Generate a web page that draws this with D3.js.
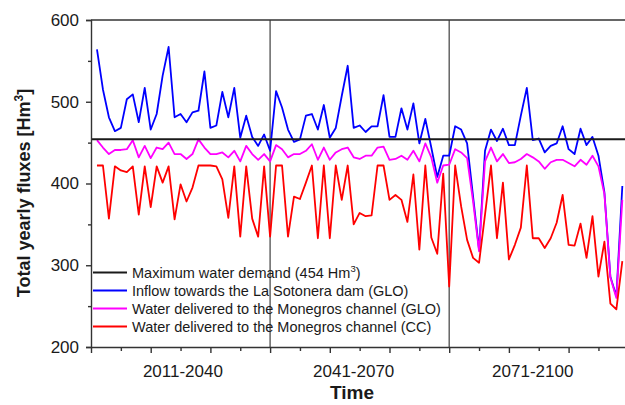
<!DOCTYPE html>
<html>
<head>
<meta charset="utf-8">
<script src="https://cdn.jsdelivr.net/npm/d3@7"></script>
<style>
  body { margin: 0; background: #fff; }
  svg { display: block; }
  text { font-family: "Liberation Sans", Arial, Helvetica, sans-serif; fill: #1a1a1a; }
</style>
</head>
<body>
<svg id="chart" width="625" height="405"></svg>
<script>
// Yearly series, one value per year starting in 2011 (Hm3)
const firstYear = 2011;
const inflowGLO = [
  564, 515, 481, 464, 468, 503, 509, 475, 517, 466,
  485, 532, 567, 481, 485, 475, 487, 489, 537, 468,
  471, 512, 481, 517, 456, 483, 457, 446, 460, 440,
  513, 493, 466, 451, 454, 483, 485, 466, 496, 456,
  468, 507, 544, 468, 471, 463, 470, 470, 508, 457,
  457, 492, 466, 498, 449, 479, 444, 408, 434, 434,
  470, 466, 449, 384, 319, 440, 466, 452, 467, 447,
  447, 483, 517, 453, 455, 438, 446, 449, 470, 442,
  436, 467, 447, 457, 434, 389, 286, 262, 397
];
const deliveredGLO = [
  453, 444, 436, 441, 441, 442, 453, 432, 446, 431,
  444, 442, 450, 436, 436, 430, 436, 454, 444, 436,
  436, 438, 432, 440, 427, 446, 436, 429, 436, 427,
  447, 442, 432, 436, 436, 440, 448, 429, 444, 429,
  438, 442, 444, 432, 430, 434, 434, 444, 445, 429,
  430, 434, 429, 440, 427, 449, 432, 401, 422, 423,
  442, 438, 431, 378, 317, 427, 444, 427, 436, 425,
  426, 430, 436, 432, 427, 418, 426, 429, 429, 425,
  421, 429, 423, 434, 421, 387, 285, 260, 380
];
const deliveredCC = [
  422, 422, 357, 421, 416, 414, 421, 362, 421, 371,
  421, 401, 421, 356, 399, 378, 395, 422, 422, 422,
  421, 405, 358, 421, 335, 421, 357, 335, 421, 335,
  422, 422, 335, 384, 381, 401, 422, 333, 422, 333,
  422, 380, 422, 350, 364, 360, 361, 422, 422, 380,
  386, 380, 353, 411, 319, 422, 334, 314, 412, 274,
  422, 372, 331, 309, 303, 362, 422, 333, 401, 307,
  325, 346, 422, 333, 333, 321, 333, 352, 386, 325,
  324, 351, 309, 360, 286, 329, 253, 246, 305
];
const maxDemand = 454;

const yMajorTicks = [200, 300, 400, 500, 600];
const yMinorTicks = [250, 350, 450, 550];
const xMajorTicks = [2010, 2020, 2030, 2040, 2050, 2060, 2070, 2080, 2090, 2100];
const xMinorTicks = [2015, 2025, 2035, 2045, 2055, 2065, 2075, 2085, 2095];
const periodBreaks = [2040, 2070];
const periodLabels = ["2011-2040", "2041-2070", "2071-2100"];
const periodLabelYears = [2025.4, 2054, 2084];

const seriesNames = [
  "Inflow towards the La Sotonera dam (GLO)",
  "Water delivered to the Monegros channel (GLO)",
  "Water delivered to the Monegros channel (CC)"
];
const seriesColors = ["#0000ff", "#ff00ff", "#ff0000"];
const demandColor = "#1a1a1a";

const svg = d3.select("#chart");

const plotLeft = 91, plotTop = 20, plotBottom = 347;
const x = d3.scaleLinear().domain([2010, 2100]).range([plotLeft, plotLeft + 90 * 5.97]);
const y = d3.scaleLinear().domain([200, 600]).range([plotBottom, plotTop]);

const toPoints = vals => vals.map((v, i) => ({ year: firstYear + i, value: v }));
const line = d3.line().x(d => x(d.year)).y(d => y(d.value));

// Period separators
svg.append("g").selectAll("line").data(periodBreaks).join("line")
  .attr("x1", d => x(d)).attr("x2", d => x(d))
  .attr("y1", y(600)).attr("y2", y(200))
  .attr("stroke", "#5a5a5a").attr("stroke-width", 1.4);

// Series lines
[inflowGLO, deliveredGLO, deliveredCC].forEach((vals, k) => {
  svg.append("path")
    .datum(toPoints(vals))
    .attr("fill", "none")
    .attr("stroke", seriesColors[k])
    .attr("stroke-width", 1.8)
    .attr("stroke-linejoin", "round")
    .attr("d", line);
});

// Maximum demand reference line
svg.append("line")
  .attr("x1", x(2010)).attr("x2", 625)
  .attr("y1", y(maxDemand)).attr("y2", y(maxDemand))
  .attr("stroke", demandColor).attr("stroke-width", 2);

// Top frame
svg.append("line")
  .attr("x1", x(2010)).attr("x2", 625)
  .attr("y1", y(600)).attr("y2", y(600))
  .attr("stroke", "#333").attr("stroke-width", 1.4);

// Y axis
const yAxis = svg.append("g").attr("transform", `translate(${plotLeft},0)`)
  .call(d3.axisLeft(y).tickValues(yMajorTicks).tickSize(5).tickPadding(7).tickFormat(d3.format("d")));
svg.append("g").attr("transform", `translate(${plotLeft},0)`)
  .call(d3.axisLeft(y).tickValues(yMinorTicks).tickSize(3).tickFormat(""))
  .select(".domain").remove();

// X axis (ticks only, period labels drawn below)
svg.append("g").attr("transform", `translate(0,${plotBottom})`)
  .call(d3.axisBottom(x).tickValues(xMajorTicks).tickSize(6).tickFormat(""))
  .select(".domain").attr("d", `M${plotLeft},0.5H625`);
svg.append("g").attr("transform", `translate(0,${plotBottom})`)
  .call(d3.axisBottom(x).tickValues(xMinorTicks).tickSize(4).tickFormat(""))
  .select(".domain").remove();

svg.selectAll(".domain, .tick line").attr("stroke", "#333").attr("stroke-width", 1.4);
yAxis.selectAll(".tick text").attr("font-size", 17).attr("fill", "#1a1a1a")
  .attr("font-family", "\"Liberation Sans\", Arial, sans-serif");

svg.append("g").selectAll("text").data(periodLabels).join("text")
  .attr("x", (d, i) => x(periodLabelYears[i]))
  .attr("y", 376.5)
  .attr("text-anchor", "middle")
  .attr("font-size", 17)
  .text(d => d);

// Axis titles
svg.append("text")
  .attr("x", 352).attr("y", 399)
  .attr("text-anchor", "middle")
  .attr("font-size", 19).attr("font-weight", "bold")
  .text("Time");

const yTitle = svg.append("text")
  .attr("transform", "translate(30,193) rotate(-90)")
  .attr("text-anchor", "middle")
  .attr("font-size", 18).attr("font-weight", "bold");
yTitle.append("tspan").text("Total yearly fluxes [Hm");
yTitle.append("tspan").attr("dy", -7).attr("font-size", 12).text("3");
yTitle.append("tspan").attr("dy", 7).text("]");

// Legend
const legendRows = [
  { color: demandColor, label: ["Maximum water demand (" + maxDemand + " Hm", "3", ")"] },
  { color: seriesColors[0], label: [seriesNames[0]] },
  { color: seriesColors[1], label: [seriesNames[1]] },
  { color: seriesColors[2], label: [seriesNames[2]] }
];
const legend = svg.append("g");
legendRows.forEach((row, i) => {
  const cy = 272.5 + i * 18;
  legend.append("line")
    .attr("x1", 93).attr("x2", 127).attr("y1", cy).attr("y2", cy)
    .attr("stroke", row.color).attr("stroke-width", 2);
  const t = legend.append("text").attr("x", 132).attr("y", cy + 5).attr("font-size", 14.5)
    .attr("fill", "#2a2a2a");
  t.append("tspan").text(row.label[0]);
  if (row.label.length > 1) {
    t.append("tspan").attr("dy", -6).attr("font-size", 9.5).text(row.label[1]);
    t.append("tspan").attr("dy", 6).text(row.label[2]);
  }
});
</script>
</body>
</html>
